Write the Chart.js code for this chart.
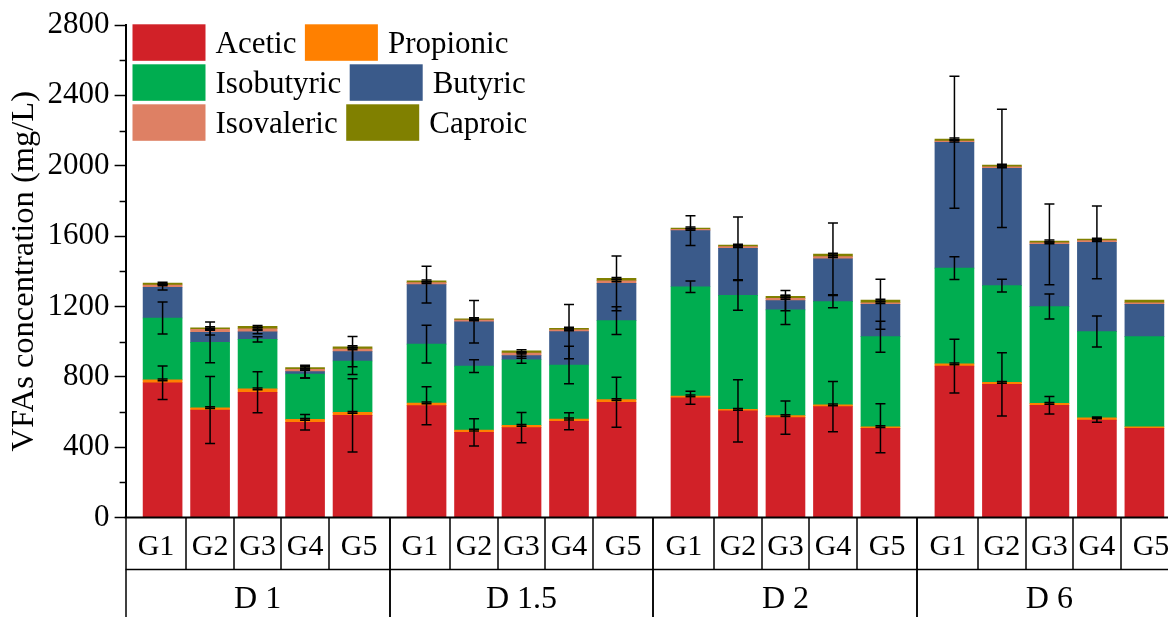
<!DOCTYPE html>
<html>
<head>
<meta charset="utf-8">
<script src="https://cdn.jsdelivr.net/npm/chart.js@4/dist/chart.umd.min.js"></script>
<style>
html,body{margin:0;padding:0;background:#fff;}
#c{display:block;}
</style>
</head>
<body>
<canvas id="c" width="1168" height="617"></canvas>
<script>
// ---------- data ----------
const periods = ['D 1', 'D 1.5', 'D 2', 'D 6'];
const groups = ['G1', 'G2', 'G3', 'G4', 'G5'];
const seriesNames = ['Acetic', 'Propionic', 'Isobutyric', 'Butyric', 'Isovaleric', 'Caproic'];

// values (mg/L), order: D1 G1..G5, D1.5 G1..G5, D2 G1..G5, D6 G1..G5
const acetic     = [766, 611, 712, 541, 581,  636, 484, 511, 547, 655,  681, 606, 568, 630, 507,  861, 757, 638, 554, 507];
const propionic  = [ 16,  13,  19,  17,  17,   15,  13,  13,  13,  15,   10,   9,  11,  10,   9,   12,  11,  11,  12,   9];
const isobutyric = [352, 372, 282, 258, 292,  335, 364, 373, 307, 449,  621, 648, 601, 587, 512,  545, 550, 550, 491, 512];
const butyric    = [175,  57,  42,  13,  53,  338, 252,  23, 190, 212,  319, 267,  53, 244, 184,  715, 667, 354, 507, 184];
const isovaleric = [ 13,  17,  18,  13,  15,   11,  10,  15,  10,  15,    7,  10,  13,  12,   9,    7,   8,   8,  10,   9];
const caproic    = [ 11,   9,  14,  10,  13,   10,   7,  13,   9,  14,    8,   9,  11,  15,  15,   12,  11,  11,   9,  15];

// standard deviations
const aceticErr     = [ 95, 190, 116,  44, 208,  108,  77,  86,  48, 142,   37, 177,  94, 143, 139,  153, 180,  50,  13, 0];
const propionicErr  = [  5,   5,   5,   5,   5,    5,   5,   5,   5,   5,    5,   5,   5,   5,   5,    5,   5,   5,   5, 0];
const isobutyricErr = [ 91, 116,  15,  23,  77,  107,  36,  20, 107,  79,   33,  85,  83,  35,  88,   65,  36,  71,  88, 0];
const butyricErr    = [ 16,  15,  10,  36,  86,  105, 121,  15, 154, 156,   85, 178,  57, 204, 142,  375, 336, 230, 207, 0];
const isovalericErr = [  5,   5,   5,   5,   5,    5,   5,   5,   5,   5,    5,   5,   5,   5,   5,    5,   5,   5,   5, 0];
const caproicErr    = [  5,   5,   5,   5,   5,    5,   5,   5,   5,   5,    5,   5,   5,   5,   5,    5,   5,   5,   5, 0];

const yTicks = [0, 400, 800, 1200, 1600, 2000, 2400, 2800];

// ---------- styling / layout ----------
const colors = ['#D12128', '#FF8000', '#00AD50', '#3A5A8A', '#DE8064', '#808000'];
const valueSets = [acetic, propionic, isobutyric, butyric, isovaleric, caproic];
const errSets = [aceticErr, propionicErr, isobutyricErr, butyricErr, isovalericErr, caproicErr];

const FONT = 'Liberation Serif, Times New Roman, serif';
const GROUP_SPAN = 5.558;              // slots per period (5 bars + gap)
const GAP = GROUP_SPAN - groups.length;

const xPos = [];
periods.forEach((p, pi) => groups.forEach((g, gi) => xPos.push(pi * GROUP_SPAN + GAP / 2 + gi + 0.5)));

const datasets = seriesNames.map((name, d) => ({
  label: name,
  data: valueSets[d].map((v, k) => ({ x: xPos[k], y: v })),
  backgroundColor: colors[d],
  borderWidth: 0,
  barThickness: 39
}));

const overlay = {
  id: 'overlay',
  afterDatasetsDraw(chart) {
    const { ctx, scales: { y } } = chart;
    ctx.save();
    ctx.strokeStyle = '#000';
    ctx.lineWidth = 1.5;
    valueSets.forEach((vals, d) => {
      const meta = chart.getDatasetMeta(d);
      errSets[d].forEach((e, j) => {
        if (!e) return;
        let cum = 0;
        for (let k = 0; k <= d; k++) cum += valueSets[k][j];
        const px = meta.data[j].x;
        const yt = y.getPixelForValue(cum + e);
        const yb = y.getPixelForValue(cum - e);
        ctx.beginPath();
        ctx.moveTo(px, yt); ctx.lineTo(px, yb);
        ctx.moveTo(px - 5, yt); ctx.lineTo(px + 5, yt);
        ctx.moveTo(px - 5, yb); ctx.lineTo(px + 5, yb);
        ctx.stroke();
      });
    });
    ctx.restore();
  },
  afterDraw(chart) {
    const { ctx, scales: { x, y } } = chart;
    ctx.save();
    ctx.strokeStyle = '#000';
    // minor y ticks
    ctx.lineWidth = 1.5;
    for (let i = 0; i < yTicks.length - 1; i++) {
      const v = (yTicks[i] + yTicks[i + 1]) / 2;
      const py = Math.round(y.getPixelForValue(v)) + 0.5;
      ctx.beginPath(); ctx.moveTo(y.right - 6, py); ctx.lineTo(y.right, py); ctx.stroke();
    }
    // category table
    const top0 = y.bottom;
    const mid = top0 + 52;
    const bot = chart.height;
    const left = x.left;
    const right = chart.width + 20;
    ctx.lineWidth = 2;
    ctx.beginPath(); ctx.moveTo(left - 1, top0); ctx.lineTo(right, top0); ctx.stroke();
    ctx.lineWidth = 1.5;
    ctx.beginPath(); ctx.moveTo(left, mid); ctx.lineTo(right, mid); ctx.stroke();
    ctx.fillStyle = '#000';
    ctx.textAlign = 'center';
    ctx.textBaseline = 'alphabetic';
    periods.forEach((p, pi) => {
      const gs = pi * GROUP_SPAN;
      const ge = gs + GROUP_SPAN;
      const bounds = [gs];
      for (let i = 1; i < groups.length; i++) bounds.push(gs + GAP / 2 + i);
      bounds.push(ge);
      [gs, ge].forEach(v => {
        const px = Math.round(x.getPixelForValue(v));
        ctx.beginPath(); ctx.moveTo(px, top0); ctx.lineTo(px, bot); ctx.stroke();
      });
      for (let i = 1; i < groups.length; i++) {
        const px = Math.round(x.getPixelForValue(bounds[i]));
        ctx.beginPath(); ctx.moveTo(px, top0); ctx.lineTo(px, mid); ctx.stroke();
      }
      ctx.font = '30px ' + FONT;
      groups.forEach((g, gi) => {
        const cx = (x.getPixelForValue(bounds[gi]) + x.getPixelForValue(bounds[gi + 1])) / 2;
        ctx.fillText(g, cx, top0 + 37);
      });
      ctx.font = '32px ' + FONT;
      const dc = (x.getPixelForValue(gs) + x.getPixelForValue(ge)) / 2;
      ctx.fillText(p, dc, bot - 9);
    });
    // legend (flow layout, 2 per row)
    ctx.font = '31px ' + FONT;
    ctx.textAlign = 'left';
    const sw = 73, sh = 36.5, rowPitch = 40;
    let lx = 132.5, ly = 24.3;
    seriesNames.forEach((name, d) => {
      if (d > 0 && d % 2 === 0) { lx = 132.5; ly += rowPitch; }
      ctx.fillStyle = colors[d];
      ctx.fillRect(lx, ly, sw, sh);
      ctx.fillStyle = '#000';
      ctx.fillText(name, lx + sw + 10, ly + 28.5);
      lx += sw + 10 + ctx.measureText(name).width + 8.5;
    });
    ctx.restore();
  }
};

new Chart(document.getElementById('c'), {
  type: 'bar',
  data: { datasets },
  options: {
    responsive: false,
    animation: false,
    devicePixelRatio: 1,
    layout: { padding: { top: 25, left: 0, right: 0, bottom: 0 } },
    plugins: { legend: { display: false }, tooltip: { enabled: false } },
    scales: {
      x: {
        type: 'linear',
        stacked: true,
        offset: false,
        min: 0,
        max: 21.95,
        ticks: { display: false },
        grid: { display: false, drawTicks: false },
        border: { display: false },
        afterFit: s => { s.height = 99.5; }
      },
      y: {
        stacked: true,
        min: 0,
        max: 2800,
        afterBuildTicks: s => { s.ticks = yTicks.map(v => ({ value: v })); },
        ticks: { font: { family: FONT, size: 31 }, color: '#000', padding: 5, callback: v => String(v) },
        grid: { display: true, drawOnChartArea: false, drawTicks: true, tickLength: 11, tickWidth: 1.5, tickColor: '#000' },
        border: { display: true, color: '#000', width: 2 },
        title: { display: true, text: 'VFAs concentration (mg/L)', font: { family: FONT, size: 32.5 }, color: '#000', padding: { top: 5, bottom: 0 } },
        afterFit: s => { s.width = 125.6; }
      }
    }
  },
  plugins: [overlay]
});
</script>
</body>
</html>
